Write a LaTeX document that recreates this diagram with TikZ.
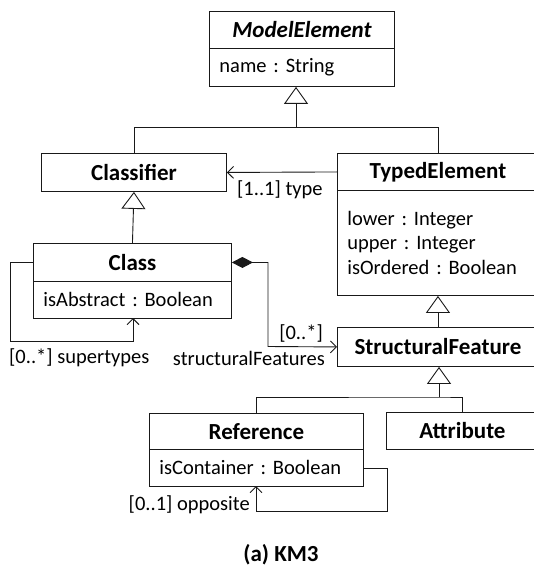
\documentclass[tikz,border=0pt]{standalone}
\usepackage{fontspec}
\setmainfont{Carlito}
\usetikzlibrary{arrows.meta}
\frenchspacing
\begin{document}
\begin{tikzpicture}[x=1pt,y=-1pt,
  every node/.style={font=\fontsize{20.5}{24.5}\selectfont},
  ln/.style={line width=0.9pt, draw=black!90},
  head/.style={ln, anchor=north west, inner sep=0pt, font=\fontsize{23}{26}\selectfont\bfseries},
  attrbox/.style={ln, anchor=north west, align=left, inner xsep=10pt, inner ysep=0pt},
  gen/.style={ln, -{Triangle[open, length=17pt, width=24pt, line width=0.9pt]}},
  assoc/.style={ln, -{Straight Barb[length=6pt, width=12pt, line width=0.9pt]}},
  comp/.style={ln, {Diamond[length=21pt, width=11pt]}-{Straight Barb[length=6pt, width=12pt, line width=0.9pt]}},
  lbl/.style={inner sep=0pt}
]
\clip (0,0) rectangle (534,569);

% classes
\node[head, minimum width=185pt, minimum height=37pt] (me) at (209,11) {\itshape ModelElement};
\node[attrbox, minimum width=185pt, minimum height=38pt, text width=165pt] (meA) at (209,48) {name : String};

\node[head, minimum width=185pt, minimum height=38pt] (clf) at (41,153) {Classifier};

\node[head, minimum width=201pt, minimum height=37pt] (te) at (337,153) {TypedElement};
\node[attrbox, minimum width=201pt, minimum height=105pt, text width=181pt] (teA) at (337,190)
  {lower : Integer\\upper : Integer\\isOrdered : Boolean};

\node[head, minimum width=198pt, minimum height=38pt] (cls) at (33,243) {Class};
\node[attrbox, minimum width=198pt, minimum height=37pt, text width=178pt] (clsA) at (33,281) {isAbstract : Boolean};

\node[head, minimum width=201pt, minimum height=39pt] (sf) at (337,327) {StructuralFeature};

\node[head, minimum width=214pt, minimum height=36pt] (ref) at (149,413) {Reference};
\node[attrbox, minimum width=214pt, minimum height=37pt, text width=194pt] (refA) at (149,449) {isContainer : Boolean};

\node[head, minimum width=152pt, minimum height=37pt] (att) at (386,412) {Attribute};

% generalizations
\coordinate (j1) at (296,127);
\draw[ln] (clf.north) |- (j1);
\draw[ln] (te.north) |- (j1);
\draw[gen] (j1) -- (j1 |- meA.south);
\draw[gen] (cls.north) -- (clf.south);
\draw[gen] (sf.north) -- (teA.south);
\coordinate (j2) at (439,397);
\draw[ln] (ref.north) |- (j2) -| (att.north);
\draw[gen] (j2) -- (j2 |- sf.south);

% associations
\draw[assoc] (te.west) -- (clf.east);
\node[lbl, anchor=west] (ltype) at (237,190) {[1..1] type};

\coordinate (cbend) at (268,346.5);
\draw[comp] (cls.east) -| (cbend) -- (sf.west);
\node[lbl, anchor=east] (lmult) at (323,333) {[0..*]};
\node[lbl, anchor=east] (lsf) at (325,358) {structuralFeatures};

\coordinate (sbend) at (10,341);
\coordinate (stip) at (133,318);
\draw[assoc] (cls.west) -| (sbend) -| (stip);
\node[lbl, anchor=west] (lsup) at (9,358) {[0..*] supertypes};

\coordinate (obend) at (387,511);
\coordinate (otip) at (256,486);
\draw[assoc] (refA.east) -| (obend) -| (otip);
\node[lbl, anchor=east] (lopp) at (250,505) {[0..1] opposite};

% caption
\node[font=\fontsize{23}{26}\selectfont\bfseries, inner sep=0pt] (cap) at (281,555) {(a) KM3};
\end{tikzpicture}
\end{document}
